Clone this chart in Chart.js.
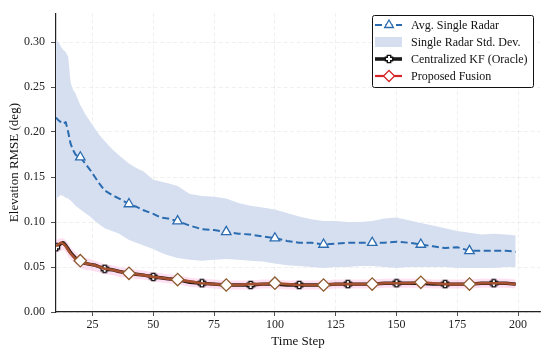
<!DOCTYPE html>
<html>
<head>
<meta charset="utf-8">
<script src="https://cdn.jsdelivr.net/npm/chart.js@4.4.1/dist/chart.umd.min.js"></script>
<style>
  html, body { margin: 0; padding: 0; background: #fff; }
  #wrap { position: relative; width: 550px; height: 354px; }
</style>
</head>
<body>
<div id="wrap"><canvas id="c" width="550" height="354"></canvas></div>
<script>
// ---- data ----
const steps = [10,11,12,13,14,15,16,17,18,19,20,22,24,26,28,30,33,36,40,43,46,50,53,56,60,65,70,75,80,85,90,95,100,105,110,115,120,125,130,135,140,145,150,155,160,165,170,175,180,185,190,195,199];

const avgSingle = [0.216,0.213,0.211,0.209,0.211,0.200,0.187,0.180,0.175,0.173,0.172,
  0.165,0.158,0.150,0.142,0.135,
  0.130,0.126,0.120,
  0.117,0.113,0.109,
  0.105,0.104,0.101,
  0.096,0.092,0.091,0.089,0.087,0.086,0.084,0.082,0.079,0.077,0.077,0.075,0.076,0.077,0.077,0.077,0.077,0.078,0.077,0.075,0.073,0.071,0.072,0.068,0.068,0.068,0.068,
  0.067];

const stdUpper = [0.302,0.300,0.295,0.291,0.289,0.284,0.255,0.247,0.243,0.236,0.230,
  0.220,0.212,0.204,0.196,0.190,
  0.181,0.174,0.165,
  0.160,0.156,0.147,
  0.145,0.143,0.140,
  0.131,0.129,0.128,0.126,0.121,0.118,0.116,0.114,0.110,0.106,0.103,0.101,0.101,0.100,0.100,0.101,0.104,0.105,0.102,0.099,0.096,0.093,0.090,0.088,0.086,0.087,0.086,
  0.085];

const stdLower = [0.125,0.128,0.130,0.129,0.127,0.126,0.124,0.121,0.118,0.116,0.114,
  0.110,0.106,0.101,0.097,0.093,
  0.090,0.087,0.080,
  0.077,0.074,0.070,
  0.066,0.063,0.060,
  0.058,0.057,0.058,0.059,0.058,0.057,0.056,0.054,0.052,0.051,0.050,0.049,0.050,0.050,0.051,0.051,0.050,0.049,0.050,0.050,0.050,0.050,0.049,0.049,0.049,0.049,0.050,
  0.050];

const centralizedKF = [0.072,0.074,0.076,0.077,0.074,0.070,0.066,0.063,0.060,0.058,0.056,
  0.054,0.053,0.052,0.050,0.048,
  0.047,0.045,0.043,
  0.042,0.041,0.039,
  0.038,0.037,0.036,
  0.033,0.032,0.031,0.030,0.030,0.030,0.031,0.031,0.030,0.030,0.030,0.030,0.031,0.031,0.031,0.031,0.032,0.032,0.032,0.032,0.031,0.031,0.031,0.031,0.032,0.032,0.032,
  0.031];

const proposedFusion = [0.073,0.075,0.077,0.076,0.073,0.069,0.065,0.062,0.059,0.058,0.057,
  0.054,0.053,0.052,0.050,0.048,
  0.047,0.045,0.043,
  0.042,0.041,0.039,
  0.038,0.037,0.036,
  0.034,0.032,0.031,0.030,0.030,0.031,0.031,0.032,0.031,0.030,0.030,0.030,0.031,0.031,0.031,0.031,0.032,0.032,0.032,0.033,0.032,0.031,0.031,0.031,0.032,0.032,0.032,
  0.031];

const fusionUpper = [0.080,0.081,0.082,0.082,0.080,0.077,0.072,0.069,0.066,0.064,0.062,
  0.060,0.059,0.057,0.055,0.053,
  0.052,0.050,0.048,
  0.047,0.046,0.044,
  0.043,0.042,0.041,
  0.038,0.037,0.036,0.035,0.035,0.035,0.036,0.036,0.035,0.035,0.035,0.035,0.036,0.036,0.036,0.036,0.037,0.037,0.037,0.037,0.036,0.036,0.036,0.036,0.037,0.037,0.037,
  0.036];

const fusionLower = [0.065,0.067,0.068,0.069,0.067,0.062,0.059,0.056,0.053,0.051,0.049,
  0.047,0.046,0.045,0.044,0.042,
  0.041,0.039,0.038,
  0.037,0.036,0.034,
  0.033,0.032,0.031,
  0.028,0.027,0.026,0.025,0.025,0.025,0.026,0.026,0.025,0.025,0.025,0.025,0.026,0.026,0.026,0.026,0.027,0.027,0.027,0.027,0.026,0.026,0.026,0.026,0.027,0.027,0.027,
  0.026];

const triangleSteps = [20,40,60,80,100,120,140,160,180];
const plusSteps = [10,30,50,70,90,110,130,150,170,190];
const diamondSteps = [20,40,60,80,100,120,140,160,180];

const xTicks = [25,50,75,100,125,150,175,200];
const yTicks = [0,0.05,0.10,0.15,0.20,0.25,0.30];

const legendLabels = ['Avg. Single Radar','Single Radar Std. Dev.','Centralized KF (Oracle)','Proposed Fusion'];

// ---- styling ----
const FONT = "'Liberation Serif', 'Times New Roman', serif";
const BLUE = '#2b6cb0';
const BAND = '#d6dff0';
const PINK = 'rgba(255,140,210,0.28)';
const FUSION_LINE = '#a5502f';
const FUSION_EDGE = '#8c5a2e';

function pts(arr) { return steps.map((s, i) => ({x: s, y: arr[i]})); }

function plusCanvas(size, fill, stroke, lw) {
  const c = document.createElement('canvas');
  c.width = size; c.height = size;
  const g = c.getContext('2d');
  const s = size, w = s * 0.17, m = s / 2, e = lw;
  g.beginPath();
  g.moveTo(m - w, e); g.lineTo(m + w, e); g.lineTo(m + w, m - w); g.lineTo(s - e, m - w);
  g.lineTo(s - e, m + w); g.lineTo(m + w, m + w); g.lineTo(m + w, s - e); g.lineTo(m - w, s - e);
  g.lineTo(m - w, m + w); g.lineTo(e, m + w); g.lineTo(e, m - w); g.lineTo(m - w, m - w);
  g.closePath();
  g.fillStyle = fill; g.fill();
  g.lineWidth = lw; g.strokeStyle = stroke; g.stroke();
  return c;
}
const plusImg = plusCanvas(10, '#ffffff', '#111111', 1.4);

function markerAt(list, r) {
  return (ctx) => {
    const raw = ctx.raw;
    return raw && list.includes(raw.x) ? r : 0;
  };
}

const datasets = [
  { // 0 proposed fusion (top)
    label: legendLabels[3], data: pts(proposedFusion),
    borderColor: FUSION_LINE, borderWidth: 2.6, fill: false, tension: 0,
    pointStyle: 'rectRot', pointRadius: markerAt(diamondSteps, 6.2),
    pointBackgroundColor: '#ffffff', pointBorderColor: FUSION_EDGE, pointBorderWidth: 1.3,
    order: 0
  },
  { // 1 centralized KF
    label: legendLabels[2], data: pts(centralizedKF),
    borderColor: '#2a1a14', borderWidth: 3.4, fill: false, tension: 0,
    pointStyle: plusImg, pointRadius: markerAt(plusSteps, 5),
    order: 1
  },
  { // 2 avg single radar
    label: legendLabels[0], data: pts(avgSingle),
    borderColor: BLUE, borderWidth: 2, borderDash: [7, 3.5], fill: false, tension: 0,
    pointStyle: 'triangle', pointRadius: markerAt(triangleSteps, 5.5),
    pointBackgroundColor: '#ffffff', pointBorderColor: BLUE, pointBorderWidth: 1.3,
    order: 2
  },
  { // 3 fusion band lower
    label: 'fusionLower', data: pts(fusionLower),
    borderWidth: 0, pointRadius: 0, fill: false, order: 3
  },
  { // 4 fusion band upper
    label: 'fusionUpper', data: pts(fusionUpper),
    borderWidth: 0, pointRadius: 0, fill: 3, backgroundColor: PINK, order: 3
  },
  { // 5 std lower
    label: 'stdLower', data: pts(stdLower),
    borderWidth: 0, pointRadius: 0, fill: false, order: 4
  },
  { // 6 std upper
    label: legendLabels[1], data: pts(stdUpper),
    borderWidth: 0, pointRadius: 0, fill: 5, backgroundColor: BAND, order: 4
  }
];

// ---- custom legend drawn inside the plot ----
const legendPlugin = {
  id: 'boxLegend',
  afterDraw(chart) {
    const g = chart.ctx;
    const x0 = 372.5, y0 = 15.5, w = 161, h = 72;
    g.save();
    g.beginPath();
    if (g.roundRect) g.roundRect(x0, y0, w, h, 2); else g.rect(x0, y0, w, h);
    g.fillStyle = '#ffffff'; g.fill();
    g.lineWidth = 1; g.strokeStyle = '#111'; g.stroke();

    const hx0 = 375, hx1 = 402, mx = 389, tx = 411;
    const rows = [25, 42, 59, 76];
    // row 1: dashed blue + triangle
    g.beginPath(); g.setLineDash([7, 3.5]); g.lineWidth = 2; g.strokeStyle = BLUE;
    g.moveTo(hx0, rows[0]); g.lineTo(hx1, rows[0]); g.stroke(); g.setLineDash([]);
    g.beginPath();
    const tr = 5;
    g.moveTo(mx, rows[0] - tr); g.lineTo(mx + tr * 0.87, rows[0] + tr * 0.5); g.lineTo(mx - tr * 0.87, rows[0] + tr * 0.5); g.closePath();
    g.fillStyle = '#fff'; g.fill(); g.lineWidth = 1.3; g.strokeStyle = BLUE; g.stroke();
    // row 2: patch
    g.fillStyle = BAND; g.fillRect(hx0, rows[1] - 5, hx1 - hx0, 10);
    // row 3: black line + plus
    g.beginPath(); g.lineWidth = 3.6; g.strokeStyle = '#1a1a1a';
    g.moveTo(hx0, rows[2]); g.lineTo(hx1, rows[2]); g.stroke();
    g.drawImage(plusImg, mx - 5, rows[2] - 5);
    // row 4: red line + diamond
    g.beginPath(); g.lineWidth = 2.2; g.strokeStyle = '#d62728';
    g.moveTo(hx0, rows[3]); g.lineTo(hx1, rows[3]); g.stroke();
    g.beginPath(); const dr = 5.5;
    g.moveTo(mx, rows[3] - dr); g.lineTo(mx + dr, rows[3]); g.lineTo(mx, rows[3] + dr); g.lineTo(mx - dr, rows[3]); g.closePath();
    g.fillStyle = '#fff'; g.fill(); g.lineWidth = 1.3; g.strokeStyle = '#d62728'; g.stroke();

    g.fillStyle = '#111';
    g.font = '12px ' + FONT;
    g.textBaseline = 'middle'; g.textAlign = 'left';
    legendLabels.forEach((t, i) => g.fillText(t, tx, rows[i] + 0.5));
    g.restore();
  }
};

new Chart(document.getElementById('c'), {
  type: 'line',
  data: { datasets },
  plugins: [legendPlugin],
  options: {
    responsive: false,
    animation: false,
    events: [],
    layout: { padding: { left: 0, top: 8, right: 10, bottom: 0 } },
    plugins: { legend: { display: false }, tooltip: { enabled: false } },
    elements: { line: { borderCapStyle: 'butt', borderJoinStyle: 'round' } },
    scales: {
      x: {
        type: 'linear', min: 10, max: 209,
        afterBuildTicks: (s) => { s.ticks = xTicks.map(v => ({value: v})); },
        afterFit: (s) => { s.height = 42; },
        ticks: { color: '#222', font: { family: FONT, size: 12 }, padding: 2, maxRotation: 0,
                 callback: (v) => String(v) },
        grid: { color: 'rgba(0,0,0,0.08)', tickColor: '#222', tickLength: 4, lineWidth: 0.8 },
        border: { display: true, color: '#222', width: 1.2, dash: [4, 2.5] },
        title: { display: true, text: 'Time Step', color: '#111',
                 font: { family: FONT, size: 13 }, padding: { top: 0, bottom: 5 } }
      },
      y: {
        type: 'linear', min: 0, max: 0.332,
        afterBuildTicks: (s) => { s.ticks = yTicks.map(v => ({value: v})); },
        afterFit: (s) => { s.width = 56; },
        ticks: { color: '#222', font: { family: FONT, size: 12 }, padding: 6,
                 callback: (v) => Number(v).toFixed(2) },
        grid: { color: 'rgba(0,0,0,0.08)', tickColor: '#222', tickLength: 5, lineWidth: 0.8 },
        border: { display: true, color: '#222', width: 1.2, dash: [4, 2.5] },
        title: { display: true, text: 'Elevation RMSE (deg)', color: '#111',
                 font: { family: FONT, size: 13 }, padding: { top: 7, bottom: 0 } }
      }
    }
  }
});
</script>
</body>
</html>
